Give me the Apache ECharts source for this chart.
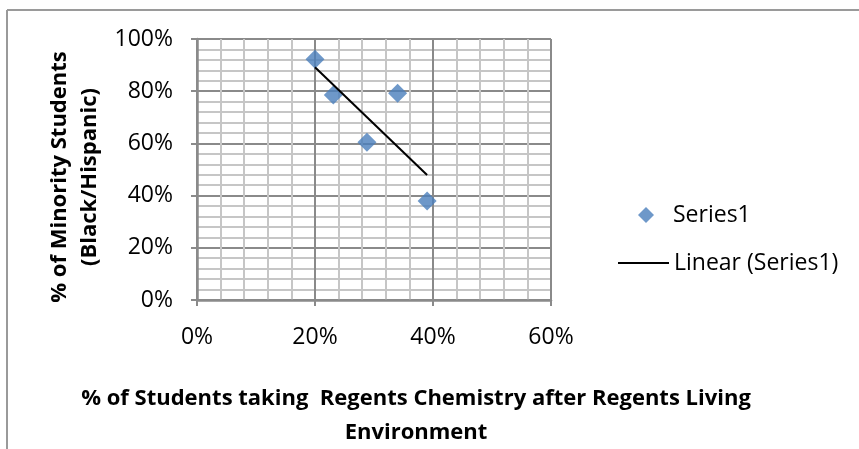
<!DOCTYPE html>
<html>
<head>
<meta charset="utf-8">
<script src="https://cdn.jsdelivr.net/npm/echarts@6/dist/echarts.min.js"></script>
<style>
  html, body { margin: 0; padding: 0; background: #fff; }
  #chart { width: 859px; height: 449px; }
</style>
</head>
<body>
<div id="chart"></div>
<script>
// Share of students taking Regents Chemistry (x) vs share of minority students (y), in %
const chemistryPct = [20.0, 23.1, 28.8, 34.0, 39.0];
const minorityPct  = [92.2, 78.5, 60.4, 79.2, 37.9];
const xTicks = [0, 20, 40, 60];
const yTicks = [0, 20, 40, 60, 80, 100];

const seriesName = 'Series1';
const trendName = 'Linear (Series1)';
const xTitle = '% of Students taking  Regents Chemistry after Regents Living\nEnvironment';
const yTitle = '% of Minority Students\n(Black/Hispanic)';

// least-squares trend line across the observed x range
function linearFit(xs, ys) {
  const n = xs.length;
  const mx = xs.reduce((a, b) => a + b, 0) / n;
  const my = ys.reduce((a, b) => a + b, 0) / n;
  let sxy = 0, sxx = 0;
  for (let i = 0; i < n; i++) {
    sxy += (xs[i] - mx) * (ys[i] - my);
    sxx += (xs[i] - mx) * (xs[i] - mx);
  }
  const slope = sxy / sxx;
  return x => my + slope * (x - mx);
}
const fit = linearFit(chemistryPct, minorityPct);
const xMin = Math.min(...chemistryPct), xMax = Math.max(...chemistryPct);
const trendData = [[xMin, fit(xMin)], [xMax, fit(xMax)]];

const font = '"Open Sans", "Noto Sans", sans-serif';
const majorColor = '#8a8a8a';
const minorColor = '#c6c6c6';
const labelSize = 23;

function axisCommon(ticks) {
  return {
    type: 'value',
    min: ticks[0],
    max: ticks[ticks.length - 1],
    interval: ticks[1] - ticks[0],
    axisLine: { show: true, onZero: false, lineStyle: { color: majorColor, width: 2.5 } },
    axisTick: { show: true, inside: false, length: 6, lineStyle: { color: majorColor, width: 2 } },
    splitLine: { show: true, lineStyle: { color: majorColor, width: 2 } },
    minorTick: { show: false, splitNumber: 5 },
    minorSplitLine: { show: true, lineStyle: { color: minorColor, width: 2 } },
    axisLabel: {
      formatter: '{value}%',
      color: '#000',
      fontFamily: font,
      fontSize: labelSize
    }
  };
}

const chart = echarts.init(document.getElementById('chart'), null, { renderer: 'canvas' });

const xAxis = axisCommon(xTicks);
xAxis.axisLabel.margin = 26;
const yAxis = axisCommon(yTicks);
yAxis.axisLabel.margin = 24;

const legendText = { color: '#000', fontFamily: font, fontSize: labelSize, lineHeight: 24 };

chart.setOption({
  animation: false,
  backgroundColor: '#fff',
  grid: { left: 197, top: 39, right: 308, bottom: 149, containLabel: false },
  xAxis: xAxis,
  yAxis: yAxis,
  legend: [
    {
      left: 633, top: 198,
      itemWidth: 16, itemHeight: 16,
      textStyle: Object.assign({ padding: [0, 0, 0, 14] }, legendText),
      data: [{ name: seriesName, icon: 'diamond' }]
    },
    {
      left: 613, top: 246,
      itemWidth: 51, itemHeight: 2,
      textStyle: Object.assign({ padding: [0, 0, 0, 0] }, legendText),
      data: [{ name: trendName, icon: 'rect' }]
    }
  ],
  graphic: [
    // chart area frame (top and left edges)
    { type: 'line', shape: { x1: 7, y1: 10, x2: 859, y2: 10 }, style: { stroke: '#9a9a9a', lineWidth: 2 } },
    { type: 'line', shape: { x1: 7, y1: 10, x2: 7, y2: 449 }, style: { stroke: '#9a9a9a', lineWidth: 2 } },
    {
      type: 'text', x: 416, y: 416,
      style: {
        text: xTitle, x: 0, y: 0, align: 'center', verticalAlign: 'middle',
        font: 'bold 22px ' + font, fill: '#000', lineHeight: 34
      }
    },
    {
      type: 'text', x: 75, y: 177, rotation: Math.PI / 2,
      style: {
        text: yTitle, x: 0, y: 0, align: 'center', verticalAlign: 'middle',
        font: 'bold 22px ' + font, fill: '#000', lineHeight: 30
      }
    }
  ],
  series: [
    {
      name: seriesName,
      type: 'scatter',
      data: chemistryPct.map((x, i) => [x, minorityPct[i]]),
      symbol: 'diamond',
      symbolSize: 19,
      itemStyle: { color: '#4a7ebb' },
      z: 3
    },
    {
      name: trendName,
      type: 'line',
      data: trendData,
      symbol: 'none',
      lineStyle: { color: '#000', width: 2 },
      itemStyle: { color: '#000' },
      z: 4
    }
  ]
});
</script>
</body>
</html>
